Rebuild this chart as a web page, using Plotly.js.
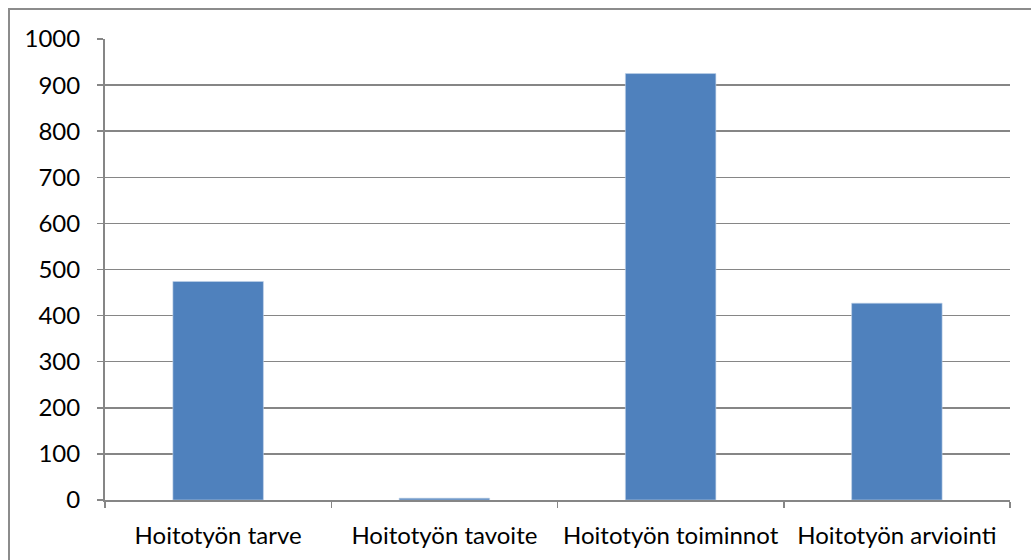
<!DOCTYPE html>
<html>
<head>
<meta charset="utf-8">
<script src="https://cdn.plot.ly/plotly-3.0.1.min.js"></script>
<style>
  html, body { margin: 0; padding: 0; background: #fff; }
  #wrap { position: relative; width: 1031px; height: 560px; overflow: hidden; }
  #chart { width: 1031px; height: 560px; }
  #frame { position: absolute; left: 8px; top: 8px; width: 1040px; height: 600px;
           border: 2px solid #8c8c8c; box-sizing: border-box; pointer-events: none; }
</style>
</head>
<body>
<div id="wrap">
  <div id="chart"></div>
  <div id="frame"></div>
</div>
<script>
const categories = ["Hoitotyön tarve", "Hoitotyön tavoite", "Hoitotyön toiminnot", "Hoitotyön arviointi"];
const values = [474, 4, 925, 427];
const yTicks = [0, 100, 200, 300, 400, 500, 600, 700, 800, 900, 1000];

const trace = {
  type: "bar",
  x: categories,
  y: values,
  marker: { color: "#4f81bd", line: { color: "#c3d4ea", width: 0.6 } },
  hoverinfo: "x+y"
};

const tickFont = { family: "Lato, 'Open Sans', sans-serif", size: 24, color: "#000" };

const layout = {
  width: 1031,
  height: 560,
  margin: { l: 105, r: 21, t: 39, b: 60 },
  paper_bgcolor: "#ffffff",
  plot_bgcolor: "#ffffff",
  bargap: 0.6,
  showlegend: false,
  font: tickFont,
  xaxis: {
    type: "category",
    showline: true,
    linecolor: "#868686",
    linewidth: 2,
    ticks: "outside",
    tickson: "boundaries",
    ticklen: 6,
    tickcolor: "#868686",
    tickwidth: 1.5,
    showgrid: false,
    ticklabelstandoff: 13,
    tickfont: tickFont
  },
  yaxis: {
    range: [0, 1000],
    tickvals: yTicks,
    ticktext: yTicks.map(String),
    showline: true,
    linecolor: "#868686",
    linewidth: 2,
    ticks: "outside",
    ticklen: 6,
    tickcolor: "#868686",
    tickwidth: 1.5,
    showgrid: true,
    gridcolor: "#868686",
    gridwidth: 1.5,
    zeroline: false,
    ticklabelstandoff: 12,
    tickfont: tickFont
  }
};

Plotly.newPlot("chart", [trace], layout, { displayModeBar: false, staticPlot: true });
</script>
</body>
</html>
